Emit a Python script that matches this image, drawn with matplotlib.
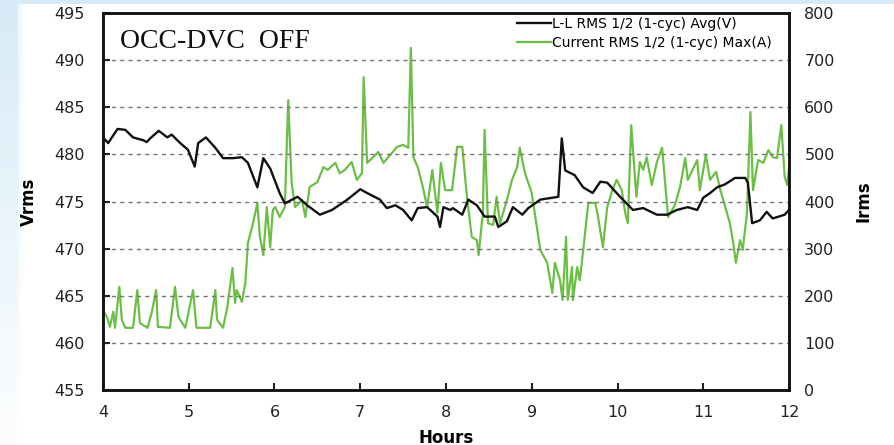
import numpy as np
import matplotlib
matplotlib.use('Agg')
import matplotlib.pyplot as plt


# L-L RMS voltage (V), read against the left axis
volt_hours = [4.00, 4.06, 4.17, 4.26, 4.35, 4.47, 4.51, 4.55, 4.65, 4.75, 4.80, 4.90, 4.99,
              5.07, 5.11, 5.20, 5.31, 5.40, 5.52, 5.62, 5.69, 5.80, 5.87, 5.95, 6.06, 6.12,
              6.27, 6.38, 6.53, 6.67, 6.85, 7.00, 7.08, 7.23, 7.31, 7.41, 7.50, 7.60, 7.67,
              7.78, 7.90, 7.93, 7.97, 8.05, 8.08, 8.19, 8.26, 8.36, 8.45, 8.57, 8.61, 8.71,
              8.78, 8.89, 8.96, 9.10, 9.24, 9.31, 9.35, 9.39, 9.50, 9.60, 9.71, 9.80, 9.88,
              10.03, 10.18, 10.30, 10.46, 10.58, 10.69, 10.82, 10.93, 11.00, 11.08, 11.16,
              11.25, 11.37, 11.49, 11.52, 11.57, 11.66, 11.74, 11.81, 11.95, 12.00]
volt_avg = [481.8, 481.2, 482.7, 482.6, 481.8, 481.5, 481.3, 481.7, 482.5, 481.8, 482.1, 481.2, 480.5,
            478.7, 481.2, 481.8, 480.7, 479.6, 479.6, 479.7, 479.1, 476.5, 479.6, 478.5, 475.9, 474.8,
            475.5, 474.6, 473.6, 474.1, 475.2, 476.3, 475.9, 475.2, 474.3, 474.6, 474.1, 473.0, 474.3,
            474.4, 473.4, 472.3, 474.4, 474.1, 474.3, 473.6, 475.2, 474.6, 473.4, 473.4, 472.3, 472.9,
            474.4, 473.6, 474.3, 475.2, 475.4, 475.5, 481.7, 478.3, 477.8, 476.5, 475.9, 477.1, 477.0,
            475.5, 474.1, 474.3, 473.6, 473.6, 474.1, 474.4, 474.1, 475.4, 475.9, 476.5,
            476.8, 477.5, 477.5, 477.0, 472.7, 473.0, 473.9, 473.2, 473.6, 474.1]

# current RMS max (A), read against the right axis
amp_hours = [4.00, 4.05, 4.08, 4.12, 4.14, 4.19, 4.22, 4.26, 4.35, 4.40, 4.43, 4.52, 4.57, 4.62,
             4.64, 4.78, 4.84, 4.88, 4.96, 5.05, 5.09, 5.25, 5.31, 5.33, 5.40, 5.45, 5.51, 5.54,
             5.56, 5.62, 5.66, 5.69, 5.75, 5.80, 5.83, 5.87, 5.91, 5.95, 5.98, 6.01, 6.06, 6.12,
             6.16, 6.20, 6.24, 6.32, 6.36, 6.41, 6.50, 6.57, 6.62, 6.71, 6.76, 6.82, 6.90, 6.96,
             7.02, 7.04, 7.08, 7.15, 7.21, 7.27, 7.35, 7.43, 7.50, 7.56, 7.59, 7.62, 7.67, 7.73,
             7.78, 7.84, 7.90, 7.94, 7.99, 8.07, 8.13, 8.19, 8.24, 8.30, 8.36, 8.38, 8.43, 8.45,
             8.49, 8.55, 8.59, 8.63, 8.71, 8.77, 8.83, 8.86, 8.92, 9.00, 9.06, 9.10, 9.18, 9.24,
             9.27, 9.33, 9.36, 9.40, 9.42, 9.47, 9.48, 9.53, 9.56, 9.60, 9.66, 9.74, 9.77, 9.83,
             9.88, 9.94, 9.99, 10.05, 10.09, 10.12, 10.16, 10.22, 10.26, 10.30, 10.34, 10.40,
             10.46, 10.52, 10.59, 10.67, 10.73, 10.79, 10.82, 10.93, 10.96, 11.03, 11.08, 11.15,
             11.20, 11.25, 11.31, 11.35, 11.38, 11.43, 11.46, 11.51, 11.55, 11.58, 11.64, 11.70,
             11.76, 11.81, 11.86, 11.91, 11.95, 11.98, 12.00]
amp_max = [170, 153, 134, 166, 132, 219, 149, 132, 132, 212, 142, 132, 166, 212,
           134, 132, 219, 155, 132, 212, 132, 132, 212, 149, 132, 176, 259, 185,
           212, 187, 227, 312, 354, 397, 325, 286, 388, 303, 382, 388, 367, 388,
           615, 439, 388, 403, 367, 431, 441, 473, 467, 482, 460, 467, 484, 446,
           460, 664, 482, 494, 505, 482, 499, 516, 520, 514, 726, 494, 473, 431,
           388, 467, 376, 482, 424, 424, 516, 516, 418, 325, 318, 286, 376, 552,
           354, 350, 410, 354, 403, 446, 473, 514, 461, 418, 346, 297, 270, 206,
           270, 233, 191, 325, 191, 261, 191, 261, 233, 297, 397, 397, 371, 303,
           388, 424, 446, 424, 376, 354, 562, 410, 484, 467, 494, 435,
           484, 514, 367, 393, 431, 492, 446, 488, 424, 499, 446, 463,
           424, 393, 354, 312, 270, 318, 297, 376, 590, 424, 488, 482,
           509, 494, 492, 562, 452, 435, 473]

left_ticks = [455, 460, 465, 470, 475, 480, 485, 490, 495]
right_ticks = [0, 100, 200, 300, 400, 500, 600, 700, 800]
hour_ticks = [4, 5, 6, 7, 8, 9, 10, 11, 12]
grid_levels = [460, 465, 470, 475, 480, 485, 490]

BLACK = '#111111'
GREEN = '#6cbf45'

fig = plt.figure(figsize=(8.95, 4.45), dpi=100)

# slide backdrop: pale blue strip on the left and along the top edge
bg = fig.add_axes([0, 0, 1, 1], zorder=-10)
h, w = 445, 895
yy, xx = np.mgrid[0:h, 0:w]
blue = np.array([0.84, 0.92, 0.97])
fade = np.clip(1.0 - yy / 420.0, 0, 1) * 0.9 + 0.1
edge = ((xx < 18) | (yy < 4)).astype(float)
soft = np.clip(1.0 - (xx - 18) / 6.0, 0, 1) * (xx >= 18) * (yy >= 4)
mix = np.clip(edge + soft * 0.5, 0, 1) * fade
img = 1.0 - mix[..., None] * (1.0 - blue)
bg.imshow(img, aspect='auto', extent=[0, 1, 0, 1], origin='upper')
bg.axis('off')

ax = fig.add_axes([103 / 895, 1 - 390 / 445, 686 / 895, 377 / 445])
ax2 = ax.twinx()

ax.plot(volt_hours, volt_avg, color=BLACK, lw=1.7, label='L-L RMS 1/2 (1-cyc) Avg(V)', zorder=3)
ax2.plot(amp_hours, amp_max, color=GREEN, lw=1.6, label='Current RMS 1/2 (1-cyc) Max(A)')
ax.set_zorder(ax2.get_zorder() + 1)
ax.patch.set_visible(False)

ax.set_xlim(4, 12)
ax.set_ylim(455, 495)
ax2.set_ylim(0, 800)
ax.set_xticks(hour_ticks)
ax.set_yticks(left_ticks)
ax2.set_yticks(right_ticks)

for g in grid_levels:
    ax.axhline(g, color='#777777', lw=1.0, ls=(0, (3, 3)), zorder=1)

for a in (ax, ax2):
    for s in a.spines.values():
        s.set_linewidth(1.8)
        s.set_color('#111111')

ax.tick_params(axis='x', direction='in', length=5, width=1.5, pad=11, labelsize=11.5, colors='#222222')
ax.tick_params(axis='y', direction='in', length=5, width=1.5, pad=13, labelsize=11.5, colors='#222222')
ax2.tick_params(axis='y', direction='in', length=0, pad=11, labelsize=11.5, colors='#222222')

ax.set_xlabel('Hours', fontsize=12, fontweight='bold', labelpad=6)
ax.set_ylabel('Vrms', fontsize=12, fontweight='bold', labelpad=12)
ax2.set_ylabel('Irms', fontsize=12, fontweight='bold', labelpad=14)

ax.text(0.025, 0.925, 'OCC-DVC  OFF', transform=ax.transAxes, family='Liberation Serif',
        fontsize=20, va='center', ha='left', color='#111111', zorder=5)

h1, l1 = ax.get_legend_handles_labels()
h2, l2 = ax2.get_legend_handles_labels()
leg = ax.legend(h1 + h2, l1 + l2, loc='upper right', bbox_to_anchor=(0.975, 0.99),
                frameon=False, fontsize=10, handlelength=2.4, handletextpad=0.1,
                labelspacing=0.4, borderaxespad=0, borderpad=0)

fig.savefig('out.png', dpi=100)
